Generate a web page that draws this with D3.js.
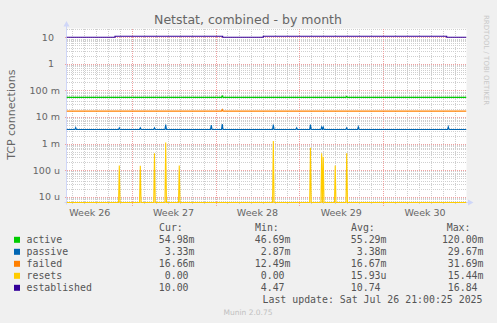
<!DOCTYPE html>
<html>
<head>
<meta charset="utf-8">
<script src="https://d3js.org/d3.v7.min.js"></script>
<style>
  body { margin: 0; background: #f0f0f0; }
  svg { display: block; }
</style>
</head>
<body>
<script>
  const width = 497, height = 323;
  const pLeft = 66.5, pRight = 466.5, pTop = 28.5, pBottom = 202.5;

  // shown time range (UTC)
  const tStart = "2025-06-23T13:20";
  const tEnd = "2025-07-26T23:00";

  // axis ticks
  const yTicks = [1e-5, 1e-4, 1e-3, 1e-2, 1e-1, 1, 10];
  const yTickLabels = ["10 u", "100 u", "1 m", "10 m", "100 m", "1  ", "10  "];
  const weekStarts = ["2025-06-22", "2025-06-29", "2025-07-06", "2025-07-13", "2025-07-20"];
  const weekLabels = ["Week 26", "Week 27", "Week 28", "Week 29", "Week 30"];

  // series values
  const activeBase = 0.055;
  const activeBumps = [["2025-07-06T13:30", 0.062], ["2025-07-16T22:55", 0.060]];
  const failedBase = 0.0167;
  const failedBumps = [["2025-07-06T13:30", 0.019]];
  const passiveBase = 0.0034;
  const passiveSpikes = [
    ["2025-06-24T07:45", 0.0040], ["2025-06-27T23:10", 0.0039], ["2025-06-29T17:15", 0.0039],
    ["2025-06-30T21:40", 0.0039], ["2025-07-01T20:10", 0.0052], ["2025-07-05T15:30", 0.0050],
    ["2025-07-06T13:30", 0.0054], ["2025-07-10T19:50", 0.0052], ["2025-07-12T18:40", 0.0039],
    ["2025-07-13T22:15", 0.0052], ["2025-07-14T20:45", 0.0042], ["2025-07-14T23:55", 0.0042],
    ["2025-07-16T22:55", 0.0039], ["2025-07-17T22:10", 0.0043], ["2025-07-25T10:30", 0.0043]
  ];
  const resetsBase = 0;
  const resetsSpikes = [
    ["2025-06-27T23:10", 1.48e-4], ["2025-06-29T17:15", 1.45e-4], ["2025-06-30T21:40", 4.3e-4],
    ["2025-07-01T20:10", 1.1e-3], ["2025-07-02T23:20", 1.48e-4], ["2025-07-10T19:50", 1.25e-3],
    ["2025-07-13T22:15", 7.0e-4], ["2025-07-14T20:45", 4.3e-4], ["2025-07-14T23:55", 3.2e-4],
    ["2025-07-15T23:55", 1.48e-4], ["2025-07-16T22:55", 4.3e-4]
  ];
  const establishedSteps = [
    ["2025-06-23T13:20", 10], ["2025-06-27T14:30", 11], ["2025-07-06T14:20", 10],
    ["2025-07-09T23:40", 11], ["2025-07-25T07:20", 10], ["2025-07-26T23:00", 10]
  ];

  // legend
  const legendNames = ["active", "passive", "failed", "resets", "established"];
  const legendColors = ["#00cc00", "#0066b3", "#ff8000", "#ffcc00", "#330099"];
  const legendHeaders = ["Cur:", "Min:", "Avg:", "Max:"];
  const curVals = ["54.98m", "3.33m", "16.66m", "0.00 ", "10.00 "];
  const minVals = ["46.69m", "2.87m", "12.49m", "0.00 ", "4.47 "];
  const avgVals = ["55.29m", "3.38m", "16.67m", "15.93u", "10.74 "];
  const maxVals = ["120.00m", "29.67m", "31.69m", "15.44m", "16.84 "];

  const utc = s => new Date(s + (s.length <= 10 ? "T00:00" : "") + ":00Z");

  const x = d3.scaleUtc().domain([utc(tStart), utc(tEnd)]).range([pLeft, pRight]);
  const y = d3.scaleLog().domain([6.05e-6, 21.44]).range([pBottom, pTop]).clamp(true);
  const yPos = v => v > 0 ? y(v) : pBottom;

  const svg = d3.select("body").append("svg")
    .attr("width", width).attr("height", height)
    .style("font-family", "'DejaVu Sans', sans-serif");

  svg.append("rect").attr("width", width).attr("height", height).attr("fill", "#f0f0f0");
  svg.append("rect").attr("x", pLeft).attr("y", pTop)
    .attr("width", pRight - pLeft).attr("height", pBottom - pTop).attr("fill", "#ffffff");

  // minor grid - horizontal
  const minorY = [];
  for (let e = -6; e <= 1; e++) {
    for (let m = 2; m <= 9; m++) {
      const v = m * Math.pow(10, e);
      if (v > y.domain()[0] && v < y.domain()[1]) minorY.push(v);
    }
  }
  const grid = svg.append("g").attr("shape-rendering", "crispEdges").attr("stroke-width", 1);
  grid.selectAll(".hmin").data(minorY).join("line")
    .attr("x1", pLeft).attr("x2", pRight)
    .attr("y1", d => Math.round(y(d)) + 0.5).attr("y2", d => Math.round(y(d)) + 0.5)
    .attr("stroke", "#cfcfcf").attr("stroke-dasharray", "1,1");

  // minor grid - vertical (days)
  const days = d3.utcDay.range(utc(tStart), utc(tEnd));
  grid.selectAll(".vmin").data(days).join("line")
    .attr("x1", d => Math.round(x(d)) + 0.5).attr("x2", d => Math.round(x(d)) + 0.5)
    .attr("y1", pTop).attr("y2", pBottom + 2)
    .attr("stroke", "#cfcfcf").attr("stroke-dasharray", "1,1");

  // major grid
  grid.selectAll(".hmaj").data(yTicks).join("line")
    .attr("x1", pLeft - 2).attr("x2", pRight)
    .attr("y1", d => Math.round(y(d)) + 0.5).attr("y2", d => Math.round(y(d)) + 0.5)
    .attr("stroke", "#f0a0a0").attr("stroke-dasharray", "1,1");
  const weekDates = weekStarts.map(utc).filter(d => d >= utc(tStart));
  grid.selectAll(".vmaj").data(weekDates).join("line")
    .attr("x1", d => Math.round(x(d)) + 0.5).attr("x2", d => Math.round(x(d)) + 0.5)
    .attr("y1", pTop).attr("y2", pBottom + 3)
    .attr("stroke", "#f0a0a0").attr("stroke-dasharray", "1,1");

  // axes
  svg.append("line").attr("x1", pLeft).attr("x2", pLeft).attr("y1", pBottom + 2).attr("y2", 25)
    .attr("stroke", "#cfd6f8");
  svg.append("line").attr("x1", pLeft - 2).attr("x2", 469).attr("y1", pBottom).attr("y2", pBottom)
    .attr("stroke", "#cfd6f8");
  svg.append("path").attr("d", `M${pLeft - 3},26.5L${pLeft + 3},26.5L${pLeft},21Z`).attr("fill", "#cfd6f8");
  svg.append("path").attr("d", `M468,${pBottom - 3}L468,${pBottom + 3}L473.5,${pBottom}Z`).attr("fill", "#cfd6f8");

  // y tick labels
  svg.selectAll(".ylab").data(yTicks).join("text")
    .attr("x", 60).attr("y", d => y(d)).attr("dy", "0.36em")
    .attr("text-anchor", "end").attr("xml:space", "preserve")
    .attr("font-size", 9.5).attr("fill", "#666")
    .text((d, i) => yTickLabels[i]);

  // x labels (middle of each week)
  svg.selectAll(".xlab").data(weekStarts).join("text")
    .attr("x", d => x(d3.utcHour.offset(utc(d), 84)))
    .attr("y", 216).attr("text-anchor", "middle")
    .attr("font-size", 9.5).attr("fill", "#666")
    .text((d, i) => weekLabels[i]);

  // build series
  const withSpikes = (base, spikes) => {
    const pts = [[utc(tStart), base]];
    spikes.forEach(([t, v]) => {
      const d = utc(t);
      pts.push([d3.utcMinute.offset(d, -90), base], [d, v], [d3.utcMinute.offset(d, 90), base]);
    });
    pts.push([utc(tEnd), base]);
    return pts;
  };
  const series = [
    { color: legendColors[0], pts: withSpikes(activeBase, activeBumps), curve: d3.curveLinear },
    { color: legendColors[1], pts: withSpikes(passiveBase, passiveSpikes), curve: d3.curveLinear },
    { color: legendColors[2], pts: withSpikes(failedBase, failedBumps), curve: d3.curveLinear },
    { color: legendColors[3], pts: withSpikes(resetsBase, resetsSpikes), curve: d3.curveLinear },
    { color: legendColors[4], pts: establishedSteps.map(([t, v]) => [utc(t), v]), curve: d3.curveStepAfter }
  ];

  svg.append("clipPath").attr("id", "plot").append("rect")
    .attr("x", pLeft).attr("y", pTop).attr("width", pRight - pLeft).attr("height", pBottom - pTop + 1);

  const plot = svg.append("g").attr("clip-path", "url(#plot)");
  series.forEach(s => {
    const line = d3.line().x(d => x(d[0])).y(d => yPos(d[1])).curve(s.curve);
    plot.append("path").attr("d", line(s.pts))
      .attr("fill", "none").attr("stroke", s.color).attr("stroke-width", 1.1);
  });

  // title and side texts
  svg.append("text").attr("x", 248).attr("y", 23.5).attr("text-anchor", "middle")
    .attr("font-size", 12.5).attr("fill", "#666").text("Netstat, combined - by month");
  svg.append("text").attr("transform", "translate(15.3,114.7) rotate(-90)")
    .attr("text-anchor", "middle").attr("font-size", 11).attr("fill", "#666")
    .text("TCP connections");
  svg.append("text").attr("transform", "translate(484,15) rotate(90)")
    .attr("font-size", 7).attr("fill", "#c8c8c8").text("RRDTOOL / TOBI OETIKER");

  // legend
  const mono = "'DejaVu Sans Mono', monospace";
  const legend = svg.append("g").attr("font-family", mono).attr("font-size", 9.9).attr("fill", "#555");
  const headX = [159, 255, 351, 446.7];
  legend.selectAll(".hdr").data(legendHeaders).join("text")
    .attr("x", (d, i) => headX[i]).attr("y", 231.3).text(d => d);

  const rowY = i => 243.3 + 12 * i;
  legend.selectAll(".sw").data(legendColors).join("rect")
    .attr("x", 14).attr("y", (d, i) => rowY(i) - 6.5).attr("width", 6).attr("height", 6)
    .attr("fill", d => d);
  legend.selectAll(".nm").data(legendNames).join("text")
    .attr("x", 26.5).attr("y", (d, i) => rowY(i)).text(d => d);

  const cols = [curVals, minVals, avgVals, maxVals];
  const colRight = [194.5, 290.5, 386.5, 483.5];
  cols.forEach((vals, c) => {
    legend.selectAll(".c" + c).data(vals).join("text")
      .attr("x", colRight[c]).attr("y", (d, i) => rowY(i))
      .attr("text-anchor", "end").attr("xml:space", "preserve").text(d => d);
  });
  legend.append("text").attr("x", 482.5).attr("y", 302.9).attr("text-anchor", "end")
    .text("Last update: Sat Jul 26 21:00:25 2025");

  svg.append("text").attr("x", 248).attr("y", 314.8).attr("text-anchor", "middle")
    .attr("font-size", 7.5).attr("fill", "#c0c0c0").text("Munin 2.0.75");
</script>
</body>
</html>
